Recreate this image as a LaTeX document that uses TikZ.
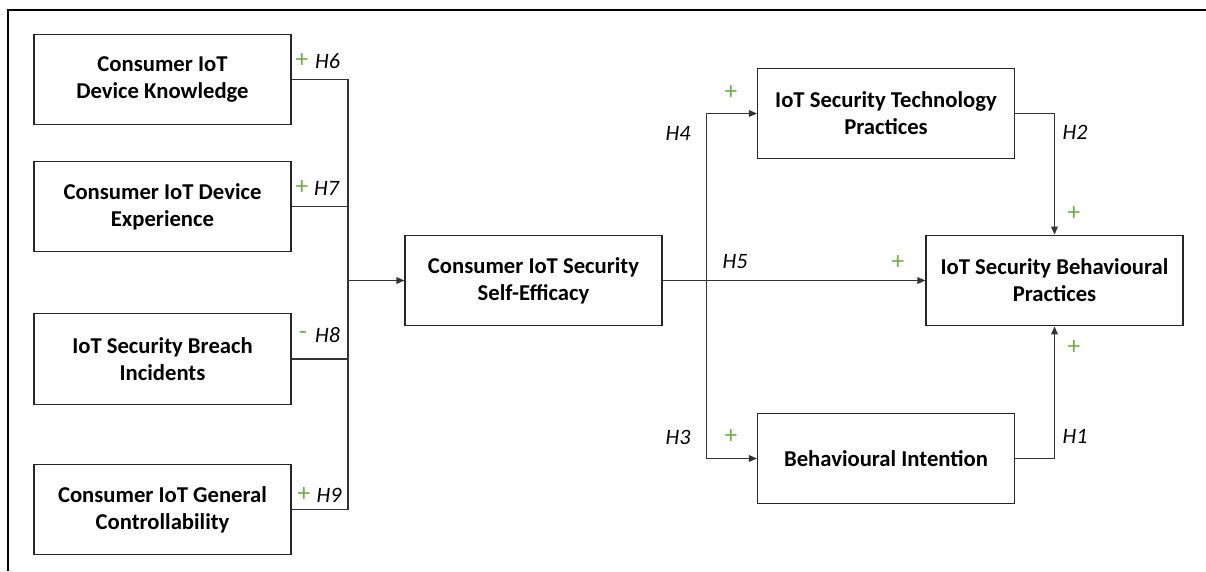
\documentclass[tikz,border=0pt]{standalone}
\usepackage{fontspec}
\setmainfont{Carlito}
\usetikzlibrary{arrows.meta}
\definecolor{sgreen}{RGB}{112,173,71}
\begin{document}
\begin{tikzpicture}[x=0.75pt,y=-0.75pt,
  box/.style={draw=black!85, line width=0.9pt, minimum width=192.75pt, minimum height=68pt, align=center, inner sep=0pt, font=\bfseries\fontsize{17}{20.3}\selectfont},
  conn/.style={draw=black!80, line width=0.9pt},
  arr/.style={conn, -{Triangle[length=6pt,width=5pt]}},
  hyp/.style={inner sep=0pt, font=\itshape\fontsize{16.5}{19}\selectfont},
  sgn/.style={inner sep=0pt, text=sgreen, font=\fontsize{19}{22}\selectfont}]
\useasboundingbox (0,0) rectangle (1206,571);
\draw[black, line width=0.8pt] (8,571) -- (8,10) -- (1206,10);
% boxes
\node[box] (k1) at (162.5,79.5) {Consumer IoT\\Device Knowledge};
\node[box] (k2) at (162.5,206.5) {Consumer IoT Device\\Experience};
\node[box] (k3) at (162.5,359) {IoT Security Breach\\Incidents};
\node[box] (k4) at (162.5,509.5) {Consumer IoT General\\Controllability};
\node[box] (se) at (533.5,280.5) {Consumer IoT Security\\Self-Efficacy};
\node[box] (tech) at (886,113.5) {IoT Security Technology\\Practices};
\node[box] (sbp) at (1054.5,280.5) {IoT Security Behavioural\\Practices};
\node[box] (bi) at (886,458.5) {Behavioural Intention};
% junctions
\coordinate (j1) at (348,79.5);
\coordinate (j4) at (348,509.5);
\coordinate (jm) at (348,280.5);
\coordinate (vt) at (706.5,113.5);
\coordinate (vb) at (706.5,458.5);
% left connectors
\draw[conn] (k1.east) -- (j1) -- (j4) -- (k4.east);
\draw[conn] (k2.east) -- (k2.east -| j1);
\draw[conn] (k3.east) -- (k3.east -| j1);
\draw[arr] (jm) -- (se.west);
% right side
\draw[arr] (se.east) -- (sbp.west);
\draw[arr] (vb) -- (vt) -- (tech.west);
\draw[arr] (vb) -- (bi.west);
\draw[arr] (tech.east) -| (sbp.north);
\draw[arr] (bi.east) -| (sbp.south);
% labels
\node[sgn] at (302,61) {+};
\node[hyp] at (327.5,61) {H6};
\node[sgn] at (302,188) {+};
\node[hyp] at (326.5,188) {H7};
\node[sgn] at (303,335) {-};
\node[hyp] at (327.5,335) {H8};
\node[sgn] at (304,495) {+};
\node[hyp] at (329,495) {H9};
\node[hyp] at (678,133) {H4};
\node[sgn] at (731,93) {+};
\node[hyp] at (735,262) {H5};
\node[sgn] at (898,263) {+};
\node[hyp] at (678,437) {H3};
\node[sgn] at (731,437) {+};
\node[hyp] at (1075,132) {H2};
\node[sgn] at (1074,214) {+};
\node[hyp] at (1075,436) {H1};
\node[sgn] at (1074,348) {+};
\end{tikzpicture}
\end{document}
